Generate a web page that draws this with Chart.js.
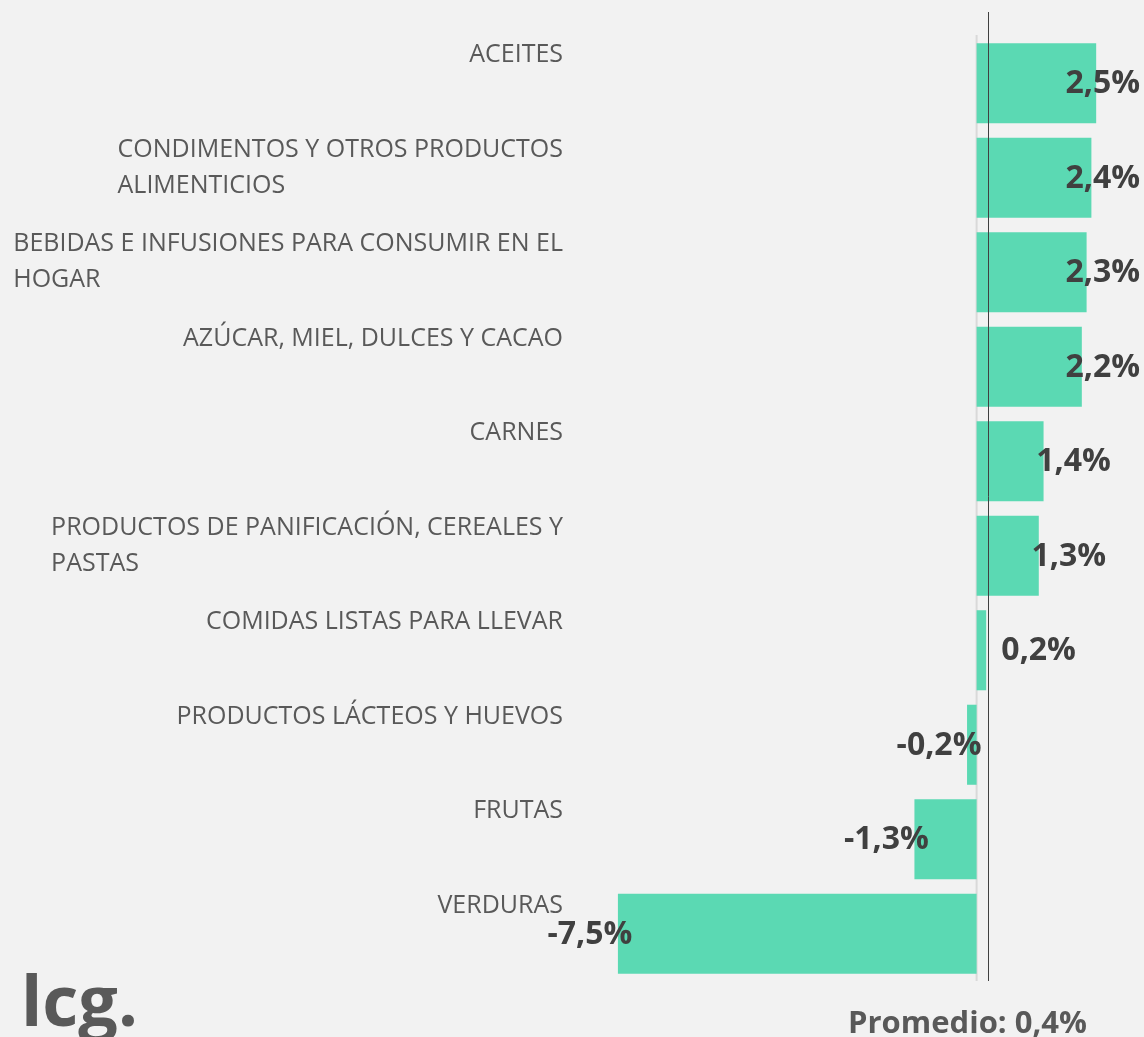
<!DOCTYPE html>
<html lang="es">
<head>
<meta charset="utf-8">
<title>Variación de precios por rubro</title>
<script src="https://cdn.jsdelivr.net/npm/chart.js@4/dist/chart.umd.min.js"></script>
<style>
	html, body { margin: 0; padding: 0; background: #f2f2f2; }
	#wrap { position: relative; width: 1144px; height: 1037px; }
</style>
</head>
<body>
<div id="wrap"><canvas id="grafico"></canvas></div>
<script>
// --- Datos ---
const categorias = [
	"ACEITES",
	["CONDIMENTOS Y OTROS PRODUCTOS", "ALIMENTICIOS"],
	["BEBIDAS E INFUSIONES PARA CONSUMIR EN EL", "HOGAR"],
	"AZÚCAR, MIEL, DULCES Y CACAO",
	"CARNES",
	["PRODUCTOS DE PANIFICACIÓN, CEREALES Y", "PASTAS"],
	"COMIDAS LISTAS PARA LLEVAR",
	"PRODUCTOS LÁCTEOS Y HUEVOS",
	"FRUTAS",
	"VERDURAS",
];
const variaciones = [2.5, 2.4, 2.3, 2.2, 1.4, 1.3, 0.2, -0.2, -1.3, -7.5];
const promedio = 0.4;
const promedioLinea = 0.24; // where the line sits in the picture
const logo = "lcg.";

// --- Estilos ---
const VERDE = "#5bd9b3";
const GRIS_TEXTO = "#595959";
const GRIS_VALOR = "#404040";
const FUENTE = "'Open Sans', sans-serif";

function fmt(v) {
	return v.toFixed(1).replace(".", ",") + "%";
}

// --- Plugins ---
const ejeCero = {
	id: "ejeCero",
	beforeDatasetsDraw(chart) {
		const { ctx, chartArea, scales } = chart;
		const x0 = scales.x.getPixelForValue(0);
		ctx.save();
		ctx.strokeStyle = "#d9d9d9";
		ctx.lineWidth = 2;
		ctx.beginPath();
		ctx.moveTo(x0, chartArea.top - 1);
		ctx.lineTo(x0, chartArea.bottom);
		ctx.stroke();
		ctx.restore();
	},
};

const etiquetas = {
	id: "etiquetas",
	afterDatasetsDraw(chart) {
		const { ctx, chartArea, scales } = chart;
		const { x, y } = scales;
		const W = chart.width;
		ctx.save();

		// average line, over the bars
		const xp = Math.round(x.getPixelForValue(promedioLinea)) + 0.5;
		ctx.strokeStyle = GRIS_VALOR;
		ctx.lineWidth = 1;
		ctx.beginPath();
		ctx.moveTo(xp, 12);
		ctx.lineTo(xp, chartArea.bottom);
		ctx.stroke();

		// category names: block right-aligned, lines left-aligned inside it
		ctx.font = "25px " + FUENTE;
		ctx.fillStyle = GRIS_TEXTO;
		ctx.textAlign = "left";
		ctx.textBaseline = "middle";
		const derecha = chartArea.left - 31;
		categorias.forEach((c, i) => {
			const lineas = Array.isArray(c) ? c : [c];
			const ancho = Math.max(...lineas.map((l) => ctx.measureText(l).width));
			const yc = y.getPixelForValue(i);
			lineas.forEach((l, k) => {
				ctx.fillText(l, derecha - ancho, yc - 28 + k * 36);
			});
		});

		// value labels
		ctx.font = "bold 32px " + FUENTE;
		ctx.fillStyle = GRIS_VALOR;
		ctx.textAlign = "center";
		const x0 = x.getPixelForValue(0);
		variaciones.forEach((v, i) => {
			const t = fmt(v);
			const w = ctx.measureText(t).width;
			const xe = x.getPixelForValue(v);
			let cx;
			if (v >= 0) cx = Math.max(Math.min(xe + 30, W - 4 - w / 2), x0 + 62);
			else cx = xe - 28;
			ctx.fillText(t, cx, y.getPixelForValue(i) + 1);
		});

		// average caption
		ctx.font = "bold 31px " + FUENTE;
		ctx.fillStyle = GRIS_TEXTO;
		ctx.textBaseline = "alphabetic";
		ctx.fillText("Promedio: " + fmt(promedio), xp - 21, chartArea.bottom + 52);

		// logo
		ctx.font = "bold 70px " + FUENTE;
		ctx.textAlign = "left";
		ctx.fillText(logo, 21, 1026);
		ctx.restore();
	},
};

// --- Gráfico ---
window.addEventListener("DOMContentLoaded", () => {
	const ctx = document.getElementById("grafico").getContext("2d");
	new Chart(ctx, {
		type: "bar",
		data: {
			labels: categorias,
			datasets: [
				{
					data: variaciones,
					backgroundColor: VERDE,
					borderWidth: 0,
					barPercentage: 0.847,
					categoryPercentage: 1,
				},
			],
		},
		options: {
			indexAxis: "y",
			responsive: true,
			maintainAspectRatio: false,
			animation: false,
			layout: { padding: { left: 594, right: 0, top: 36, bottom: 56 } },
			plugins: {
				legend: { display: false },
				tooltip: { enabled: false },
			},
			scales: {
				x: { display: false, min: -8, max: 3.5 },
				y: { display: false },
			},
		},
		plugins: [ejeCero, etiquetas],
	});
});
</script>
</body>
</html>
